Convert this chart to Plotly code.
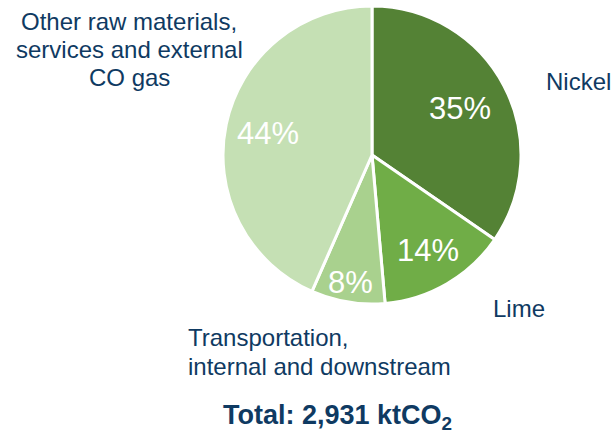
import math
import plotly.graph_objects as go

categories = ["Nickel", "Lime", "Transportation, internal and downstream",
              "Other raw materials, services and external CO gas"]
values = [34.6, 14.0, 8.0, 43.4]
pct_labels = ["35%", "14%", "8%", "44%"]
colors = ["#548235", "#70AD47", "#A9D18E", "#C5E0B4"]
label_radius = [0.67, 0.74, 0.87, 0.71]  # style: radial placement of % labels

W, H = 611, 433
NAVY = "#0f3a62"
FONT = "Liberation Sans, Arial, sans-serif"

# pie geometry (pixels)
CX, CY, R = 372, 155, 149

fig = go.Figure(go.Pie(
    labels=categories,
    values=values,
    textinfo="none",
    marker=dict(colors=colors, line=dict(color="white", width=3)),
    sort=False,
    direction="clockwise",
    rotation=0,
    domain=dict(x=[(CX - R) / W, (CX + R) / W], y=[1 - (CY + R) / H, 1 - (CY - R) / H]),
    showlegend=False,
    hovertext=pct_labels,
    hoverinfo="label+text",
))

def ann(text, px, py, xanchor="center", size=24, bold=False, color=NAVY):
    fig.add_annotation(
        text=f"<b>{text}</b>" if bold else text,
        x=px / W, y=1 - py / H, xref="paper", yref="paper",
        xanchor=xanchor, yanchor="middle", showarrow=False,
        font=dict(color=color, size=size, family=FONT),
    )

# percentage labels placed at each slice's mid-angle
total = sum(values)
cum = 0.0
for v, t, rf in zip(values, pct_labels, label_radius):
    mid = (cum + v / 2) / total * 2 * math.pi
    cum += v
    px = CX + rf * R * math.sin(mid)
    py = CY - rf * R * math.cos(mid)
    ann(t, px, py, size=31, color="white")

ann("Other raw materials,", 129, 22)
ann("services and external", 129, 49.5)
ann("CO gas", 129, 77)
ann("Nickel", 578, 81)
ann("Lime", 519, 308)
ann("Transportation,", 186, 337, xanchor="left")
ann("internal and downstream", 186, 366, xanchor="left")
ann("Total: 2,931 ktCO<sub>2</sub>", 337, 417, size=27, bold=True)

fig.update_layout(
    width=W, height=H,
    margin=dict(l=0, r=0, t=0, b=0),
    paper_bgcolor="white",
    plot_bgcolor="white",
)

fig.write_html("out.html", config={"displayModeBar": False},
               post_script="document.body.style.margin='0';")
